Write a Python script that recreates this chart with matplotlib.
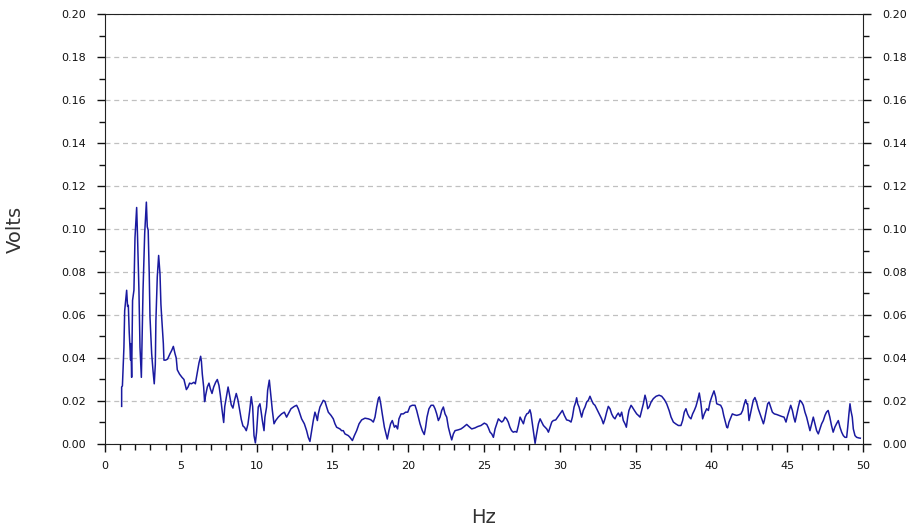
import matplotlib
matplotlib.use('Agg')
import matplotlib.pyplot as plt
from matplotlib.ticker import MultipleLocator

# Spectrum vertices (Hz, Volts)
hz = [1.10, 1.10, 1.15, 1.25, 1.30, 1.43, 1.49, 1.54, 1.60, 1.69, 1.71, 1.76, 1.82, 1.91, 1.98,
      2.09, 2.15, 2.24, 2.31, 2.40, 2.51, 2.62, 2.73, 2.79, 2.85, 2.92, 2.97, 3.08, 3.17, 3.25,
      3.32, 3.36, 3.45, 3.54, 3.63, 3.69, 3.74, 3.85, 3.89, 4.00, 4.13, 4.29, 4.40, 4.51, 4.62,
      4.70, 4.77, 4.92, 5.08, 5.21, 5.37, 5.48, 5.58, 5.70, 5.87, 5.96, 6.09, 6.20, 6.31, 6.36,
      6.42, 6.51, 6.57, 6.64, 6.75, 6.86, 6.95, 7.06, 7.17, 7.30, 7.41, 7.52, 7.61, 7.72, 7.83,
      7.90, 8.01, 8.12, 8.22, 8.33, 8.44, 8.55, 8.66, 8.77, 8.88, 8.99, 9.10, 9.21, 9.32, 9.43,
      9.54, 9.65, 9.74, 9.83, 9.92, 10.00, 10.11, 10.22, 10.29, 10.38, 10.49, 10.55, 10.66, 10.73,
      10.84, 10.93, 11.04, 11.15, 11.26, 11.43, 11.65, 11.83, 11.98, 12.09, 12.27, 12.49, 12.64,
      12.75, 12.86, 12.97, 13.15, 13.30, 13.41, 13.52, 13.63, 13.74, 13.85, 13.92, 14.01, 14.07,
      14.18, 14.29, 14.40, 14.51, 14.62, 14.73, 14.91, 15.06, 15.17, 15.28, 15.50, 15.61, 15.72,
      15.83, 16.05, 16.16, 16.32, 16.45, 16.60, 16.76, 16.93, 17.15, 17.37, 17.55, 17.70, 17.81,
      17.92, 18.03, 18.10, 18.19, 18.29, 18.43, 18.51, 18.62, 18.73, 18.84, 18.95, 19.09, 19.19,
      19.30, 19.39, 19.53, 19.68, 19.83, 19.97, 20.12, 20.27, 20.45, 20.56, 20.67, 20.78, 20.93,
      21.06, 21.15, 21.24, 21.37, 21.51, 21.66, 21.77, 21.88, 21.99, 22.10, 22.21, 22.32, 22.43,
      22.54, 22.65, 22.76, 22.87, 22.98, 23.09, 23.31, 23.48, 23.64, 23.86, 24.01, 24.19, 24.41,
      24.58, 24.80, 25.02, 25.18, 25.29, 25.40, 25.51, 25.62, 25.73, 25.84, 25.95, 26.06, 26.17,
      26.28, 26.38, 26.49, 26.60, 26.71, 26.82, 26.93, 27.05, 27.16, 27.27, 27.38, 27.49, 27.60,
      27.71, 27.82, 27.93, 28.03, 28.10, 28.19, 28.28, 28.37, 28.45, 28.59, 28.70, 28.81, 28.92,
      29.03, 29.14, 29.25, 29.36, 29.47, 29.57, 29.73, 29.86, 30.01, 30.17, 30.30, 30.45, 30.61,
      30.74, 30.83, 30.94, 31.05, 31.11, 31.18, 31.27, 31.36, 31.44, 31.55, 31.66, 31.77, 31.88,
      31.99, 32.10, 32.21, 32.32, 32.43, 32.54, 32.65, 32.76, 32.87, 32.98, 33.09, 33.20, 33.31,
      33.42, 33.53, 33.64, 33.75, 33.86, 33.97, 34.08, 34.19, 34.30, 34.39, 34.48, 34.56, 34.70,
      34.78, 34.92, 35.07, 35.18, 35.29, 35.40, 35.51, 35.62, 35.71, 35.80, 35.89, 36.02, 36.17,
      36.35, 36.55, 36.72, 36.90, 37.05, 37.21, 37.34, 37.49, 37.64, 37.82, 37.99, 38.10, 38.21,
      38.32, 38.43, 38.54, 38.65, 38.76, 38.87, 38.98, 39.09, 39.20, 39.31, 39.42, 39.53, 39.69,
      39.80, 39.91, 40.02, 40.17, 40.28, 40.35, 40.46, 40.61, 40.72, 40.81, 40.90, 41.01, 41.07,
      41.16, 41.29, 41.38, 41.51, 41.67, 41.82, 41.95, 42.06, 42.17, 42.26, 42.33, 42.39, 42.48,
      42.57, 42.66, 42.76, 42.87, 42.98, 43.09, 43.21, 43.32, 43.43, 43.49, 43.60, 43.71, 43.80,
      43.91, 44.02, 44.15, 44.31, 44.46, 44.64, 44.79, 44.92, 45.03, 45.14, 45.23, 45.34, 45.43,
      45.52, 45.63, 45.73, 45.84, 45.95, 46.06, 46.17, 46.28, 46.39, 46.50, 46.61, 46.72, 46.83,
      46.94, 47.05, 47.16, 47.27, 47.38, 47.49, 47.59, 47.70, 47.81, 47.92, 48.03, 48.14, 48.25,
      48.37, 48.48, 48.59, 48.70, 48.81, 48.92, 48.99, 49.07, 49.14, 49.20, 49.29, 49.36, 49.47,
      49.58, 49.73, 49.82]

volts = [0.0175, 0.0265, 0.0270, 0.0450, 0.0620, 0.0715, 0.0640, 0.0645, 0.0520, 0.0390, 0.0467, 0.0310, 0.0668, 0.0715, 0.0960,
         0.1100, 0.0960, 0.0715, 0.0450, 0.0310, 0.0715, 0.0980, 0.1125, 0.1010, 0.0995, 0.0790, 0.0590, 0.0420, 0.0340, 0.0280,
         0.0370, 0.0575, 0.0777, 0.0877, 0.0790, 0.0650, 0.0590, 0.0467, 0.0390, 0.0390, 0.0395, 0.0420, 0.0435, 0.0454, 0.0420,
         0.0400, 0.0345, 0.0325, 0.0310, 0.0300, 0.0253, 0.0265, 0.0283, 0.0280, 0.0287, 0.0280, 0.0332, 0.0377, 0.0408, 0.0385,
         0.0325, 0.0265, 0.0197, 0.0227, 0.0265, 0.0283, 0.0257, 0.0235, 0.0265, 0.0287, 0.0300, 0.0272, 0.0227, 0.0160, 0.0100,
         0.0174, 0.0220, 0.0265, 0.0227, 0.0182, 0.0167, 0.0205, 0.0235, 0.0205, 0.0160, 0.0114, 0.0084, 0.0077, 0.0062, 0.0092,
         0.0152, 0.0220, 0.0174, 0.0039, 0.0005, 0.0055, 0.0172, 0.0187, 0.0156, 0.0109, 0.0062, 0.0125, 0.0172, 0.0250,
         0.0297, 0.0234, 0.0156, 0.0094, 0.0109, 0.0125, 0.0140, 0.0148, 0.0125, 0.0140, 0.0164, 0.0175, 0.0180,
         0.0164, 0.0140, 0.0117, 0.0094, 0.0062, 0.0031, 0.0012, 0.0062, 0.0109, 0.0148, 0.0133, 0.0109, 0.0140,
         0.0172, 0.0187, 0.0203, 0.0198, 0.0172, 0.0148, 0.0133, 0.0117, 0.0094, 0.0078, 0.0070, 0.0062, 0.0062,
         0.0047, 0.0039, 0.0031, 0.0016, 0.0039, 0.0062, 0.0094, 0.0112, 0.0120, 0.0117, 0.0112, 0.0102, 0.0125,
         0.0172, 0.0211, 0.0219, 0.0187, 0.0140, 0.0078, 0.0055, 0.0023, 0.0062, 0.0094, 0.0109, 0.0078, 0.0086,
         0.0070, 0.0117, 0.0140, 0.0140, 0.0148, 0.0148, 0.0175, 0.0180, 0.0180, 0.0156, 0.0125, 0.0094, 0.0062,
         0.0044, 0.0078, 0.0125, 0.0164, 0.0180, 0.0180, 0.0164, 0.0140, 0.0109, 0.0125, 0.0156, 0.0172, 0.0140,
         0.0125, 0.0078, 0.0047, 0.0019, 0.0047, 0.0062, 0.0066, 0.0070, 0.0078, 0.0091, 0.0081, 0.0070, 0.0075,
         0.0081, 0.0086, 0.0097, 0.0091, 0.0075, 0.0055, 0.0047, 0.0031, 0.0070, 0.0094, 0.0117, 0.0109, 0.0102,
         0.0109, 0.0125, 0.0117, 0.0102, 0.0078, 0.0062, 0.0055, 0.0058, 0.0055, 0.0086, 0.0125, 0.0109, 0.0094,
         0.0125, 0.0140, 0.0144, 0.0159, 0.0140, 0.0094, 0.0047, 0.0003, 0.0039, 0.0094, 0.0117, 0.0102, 0.0086,
         0.0078, 0.0070, 0.0055, 0.0078, 0.0102, 0.0109, 0.0112, 0.0125, 0.0140, 0.0156, 0.0133, 0.0112, 0.0109,
         0.0102, 0.0125, 0.0172, 0.0195, 0.0215, 0.0187, 0.0172, 0.0148, 0.0125, 0.0156, 0.0172, 0.0195, 0.0203,
         0.0222, 0.0203, 0.0187, 0.0180, 0.0164, 0.0148, 0.0133, 0.0117, 0.0094, 0.0117, 0.0148, 0.0175, 0.0164,
         0.0140, 0.0125, 0.0117, 0.0133, 0.0144, 0.0128, 0.0148, 0.0109, 0.0094, 0.0078, 0.0125, 0.0156, 0.0180,
         0.0172, 0.0156, 0.0140, 0.0133, 0.0125, 0.0156, 0.0187, 0.0227, 0.0203, 0.0164, 0.0172, 0.0195, 0.0211,
         0.0222, 0.0227, 0.0222, 0.0206, 0.0187, 0.0156, 0.0125, 0.0102, 0.0094, 0.0086, 0.0086, 0.0109, 0.0148,
         0.0164, 0.0140, 0.0125, 0.0117, 0.0140, 0.0156, 0.0175, 0.0203, 0.0237, 0.0187, 0.0117, 0.0140, 0.0164,
         0.0156, 0.0195, 0.0219, 0.0247, 0.0219, 0.0187, 0.0184, 0.0180, 0.0164, 0.0133, 0.0109, 0.0078, 0.0075,
         0.0102, 0.0125, 0.0140, 0.0136, 0.0133, 0.0136, 0.0140, 0.0156, 0.0187, 0.0206, 0.0187, 0.0187, 0.0109,
         0.0140, 0.0172, 0.0203, 0.0216, 0.0195, 0.0164, 0.0140, 0.0117, 0.0094, 0.0109, 0.0148, 0.0187, 0.0195,
         0.0172, 0.0148, 0.0140, 0.0137, 0.0133, 0.0128, 0.0125, 0.0102, 0.0133, 0.0159, 0.0180, 0.0156, 0.0125,
         0.0102, 0.0140, 0.0172, 0.0203, 0.0195, 0.0180, 0.0148, 0.0125, 0.0094, 0.0062, 0.0094, 0.0125, 0.0094,
         0.0062, 0.0047, 0.0070, 0.0094, 0.0109, 0.0133, 0.0148, 0.0156, 0.0125, 0.0086, 0.0055, 0.0078, 0.0094,
         0.0109, 0.0078, 0.0055, 0.0039, 0.0031, 0.0031, 0.0078, 0.0140, 0.0187, 0.0156, 0.0125, 0.0070, 0.0039,
         0.0031, 0.0028, 0.0027]

x_ticks = [0, 5, 10, 15, 20, 25, 30, 35, 40, 45, 50]
y_ticks = [0.00, 0.02, 0.04, 0.06, 0.08, 0.10, 0.12, 0.14, 0.16, 0.18, 0.20]

fig = plt.figure(figsize=(9.12, 5.29), dpi=100)
ax = fig.add_axes([0.1151, 0.1607, 0.8312, 0.8128])

ax.plot(hz, volts, color='#1a1aa0', linewidth=1.1)

ax.set_xlim(0, 50)
ax.set_ylim(0, 0.20)
ax.set_xticks(x_ticks)
ax.set_yticks(y_ticks)
ax.set_yticklabels(['%.2f' % v for v in y_ticks])
ax.xaxis.set_minor_locator(MultipleLocator(1))
ax.yaxis.set_minor_locator(MultipleLocator(0.01))

ax.tick_params(axis='both', which='both', direction='out', colors='#111111', labelsize=8)
ax.tick_params(axis='y', which='both', left=True, right=True, labelleft=True, labelright=True, pad=8)
ax.tick_params(axis='x', which='both', top=False, pad=6)
ax.tick_params(which='major', length=6, width=1)
ax.tick_params(which='minor', length=4, width=1)

ax.grid(True, axis='y', which='major', linestyle=(0, (4, 3)), color='#c0c0c0', linewidth=0.9)
ax.set_axisbelow(True)

for s in ax.spines.values():
    s.set_color('#222222')

ax.set_xlabel('Hz', fontsize=14, color='#333333', labelpad=27)
ax.set_ylabel('Volts', fontsize=14, color='#333333', labelpad=26)

fig.savefig('out.png', dpi=100)
